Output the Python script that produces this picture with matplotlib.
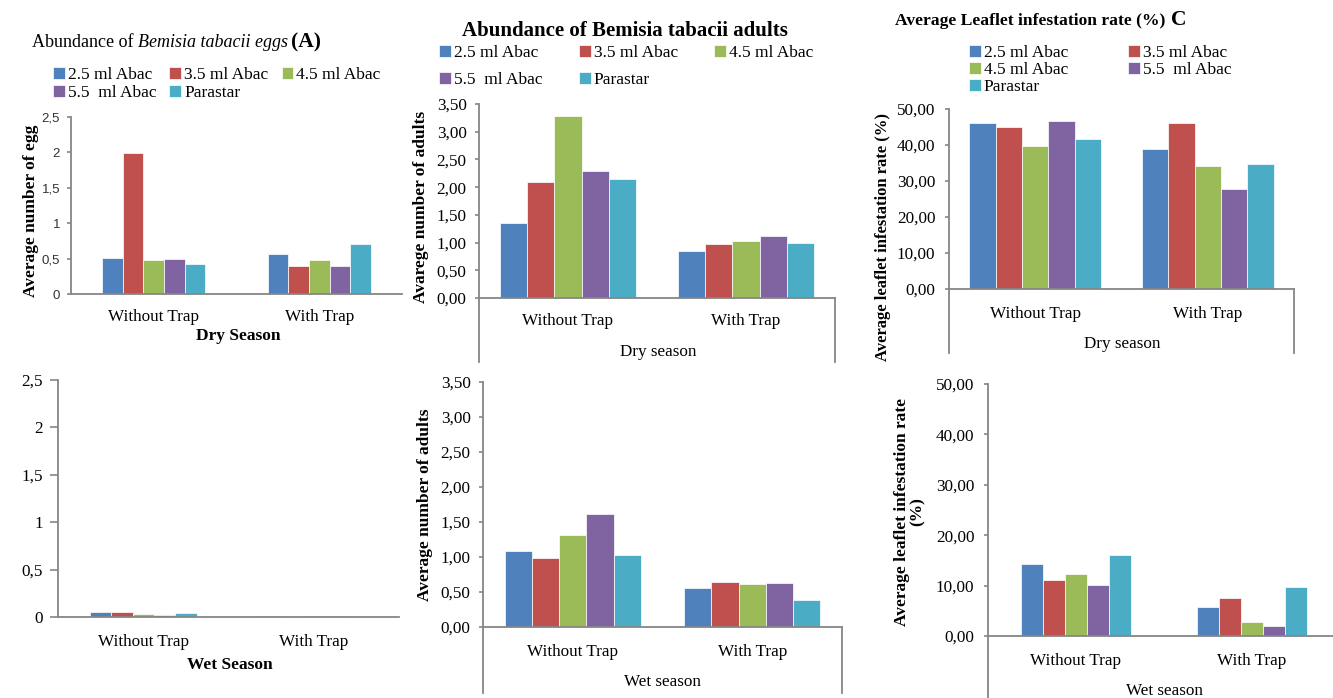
import matplotlib
matplotlib.use('Agg')
import matplotlib.pyplot as plt
import numpy as np

W, H = 1333, 698
plt.rcParams['font.family'] = 'Liberation Serif'
plt.rcParams['font.size'] = 12.3

# data
series = ['2.5 ml Abac', '3.5 ml Abac', '4.5 ml Abac', '5.5  ml Abac', 'Parastar']
colors = ['#4F81BD', '#C0504D', '#9BBB59', '#8064A2', '#4BACC6']
categories = ['Without Trap', 'With Trap']

eggs_dry_without = [0.51, 1.99, 0.48, 0.50, 0.42]
eggs_dry_with = [0.57, 0.40, 0.48, 0.39, 0.70]
eggs_wet_without = [0.05, 0.05, 0.035, 0.025, 0.042]
eggs_wet_with = [0.012, 0.0, 0.012, 0.012, 0.0]

adults_dry_without = [1.35, 2.10, 3.29, 2.30, 2.14]
adults_dry_with = [0.85, 0.97, 1.03, 1.11, 0.99]
adults_wet_without = [1.08, 0.98, 1.32, 1.62, 1.03]
adults_wet_with = [0.56, 0.65, 0.61, 0.63, 0.39]

leaf_dry_without = [46.0, 45.1, 39.8, 46.7, 41.7]
leaf_dry_with = [38.9, 46.0, 34.2, 27.9, 34.6]
leaf_wet_without = [14.3, 11.2, 12.3, 10.1, 16.1]
leaf_wet_with = [5.8, 7.6, 2.7, 2.0, 9.8]

egg_ticks = [0, 0.5, 1, 1.5, 2, 2.5]
egg_labels = ['0', '0,5', '1', '1,5', '2', '2,5']
adult_ticks = [0, 0.5, 1, 1.5, 2, 2.5, 3, 3.5]
adult_labels = ['0,00', '0,50', '1,00', '1,50', '2,00', '2,50', '3,00', '3,50']
leaf_ticks = [0, 10, 20, 30, 40, 50]
leaf_labels = ['0,00', '10,00', '20,00', '30,00', '40,00', '50,00']

GRAY = '#868686'

fig = plt.figure(figsize=(W / 100, H / 100), dpi=100)


def px_axes(l, t, r, b):
    return fig.add_axes([l / W, 1 - b / H, (r - l) / W, (b - t) / H])


def bar_panel(ax, without, with_, group, ticks, labels, tick_len=4, ypad=5, xpad=11,
              tickfont=None):
    n = len(series)
    w = group / n
    x = np.arange(len(categories))
    for i in range(n):
        ax.bar(x - group / 2 + w * (i + 0.5), [without[i], with_[i]], w,
               color=colors[i], edgecolor='white', linewidth=0.5, label=series[i])
    ax.set_xlim(-0.5, len(categories) - 0.5)
    ax.set_ylim(ticks[0], ticks[-1])
    ax.set_yticks(ticks)
    ax.set_yticklabels(labels)
    ax.set_xticks(x)
    ax.set_xticklabels(categories)
    for s in ['top', 'right']:
        ax.spines[s].set_visible(False)
    for s in ['left', 'bottom']:
        ax.spines[s].set_color(GRAY)
        ax.spines[s].set_linewidth(1.3)
    ax.tick_params(axis='y', direction='out', length=tick_len * 0.72, width=1.2,
                   color=GRAY, pad=ypad)
    ax.tick_params(axis='x', length=0, pad=xpad)
    if tickfont:
        for t in ax.get_yticklabels():
            t.set_fontfamily(tickfont['family'])
            t.set_fontsize(tickfont['size'])
            t.set_color(tickfont['color'])
    ax.set_facecolor('none')


def frame_lines(ax, depth_px, right=True):
    h = ax.get_position().height * H
    d = depth_px / h
    ax.plot([0, 0], [0, -d], transform=ax.transAxes, color=GRAY, lw=1.3, clip_on=False)
    if right:
        ax.plot([1, 1], [0, -d], transform=ax.transAxes, color=GRAY, lw=1.3, clip_on=False)


def legend(ax, x, y, order, ncol, colsp, labsp):
    hs, ls = ax.get_legend_handles_labels()
    fig.legend([hs[i] for i in order], [ls[i] for i in order], loc='upper left',
               bbox_to_anchor=(x / W, 1 - y / H), ncol=ncol, frameon=False,
               borderpad=0, borderaxespad=0, handlelength=0.68, handleheight=0.68,
               handletextpad=0.18, columnspacing=colsp, labelspacing=labsp,
               fontsize=12.5)


def ftext(x, y, s, **kw):
    return fig.text(x / W, 1 - y / H, s, **kw)


def seq_text(x, y, parts):
    r = fig.canvas.get_renderer()
    for s, gap, kw in parts:
        t = ftext(x, y, s, va='baseline', ha='left', **kw)
        x += t.get_window_extent(r).width + gap


# Panel A - eggs, dry season
axA1 = px_axes(71, 117, 402, 294)
bar_panel(axA1, eggs_dry_without, eggs_dry_with, 0.62, egg_ticks, egg_labels, ypad=5,
          xpad=11, tickfont={'family': 'Liberation Sans', 'size': 9.5, 'color': '#333333'})
seq_text(32, 47, [('Abundance of', 4, {'size': 13}),
                  ('Bemisia tabacii eggs', 4, {'style': 'italic', 'size': 13}),
                  ('(A)', 0, {'weight': 'bold', 'size': 15.5})])
legend(axA1, 53, 67, [0, 3, 1, 4, 2], 3, 0.75, 0.12)
ftext(31, 211, 'Average number of egg', rotation=90, ha='center', va='center',
      weight='bold', size=12.5)
ftext(238, 336, 'Dry Season', ha='center', va='center', weight='bold', size=12.5)

# Panel A - eggs, wet season
axA2 = px_axes(58, 380, 399, 617)
bar_panel(axA2, eggs_wet_without, eggs_wet_with, 0.63, egg_ticks, egg_labels,
          tick_len=8, ypad=5, xpad=12)
ftext(230, 665, 'Wet Season', ha='center', va='center', weight='bold', size=12.5)

# Panel B - adults, dry season
axB1 = px_axes(479, 104, 835, 298)
bar_panel(axB1, adults_dry_without, adults_dry_with, 0.765, adult_ticks, adult_labels,
          ypad=6, xpad=11)
frame_lines(axB1, 64)
ftext(625, 36, 'Abundance of Bemisia tabacii adults', ha='center', va='baseline',
      weight='bold', size=15)
legend(axB1, 439, 45, [0, 3, 1, 4, 2], 3, 2.1, 0.62)
ftext(421, 207, 'Avarege number of adults', rotation=90, ha='center', va='center',
      weight='bold', size=12.5)
ftext(658, 352, 'Dry season', ha='center', va='center')

# Panel B - adults, wet season
axB2 = px_axes(483, 382, 842, 627)
bar_panel(axB2, adults_wet_without, adults_wet_with, 0.76, adult_ticks, adult_labels,
          ypad=6, xpad=12)
frame_lines(axB2, 66)
ftext(425, 505, 'Average number of adults', rotation=90, ha='center', va='center',
      weight='bold', size=12.5)
ftext(663, 682, 'Wet season', ha='center', va='center')

# Panel C - leaflet infestation, dry season
axC1 = px_axes(949, 109, 1294, 289)
bar_panel(axC1, leaf_dry_without, leaf_dry_with, 0.765, leaf_ticks, leaf_labels,
          ypad=7, xpad=12)
frame_lines(axC1, 64)
seq_text(895, 25, [('Average Leaflet infestation rate (%)', 6, {'weight': 'bold', 'size': 12.6}),
                   ('C', 0, {'weight': 'bold', 'size': 15.5})])
legend(axC1, 969, 45, [0, 2, 4, 1, 3], 2, 3.45, 0.05)
ftext(883, 237, 'Average leaflet infestation rate (%)', rotation=90, ha='center',
      va='center', weight='bold', size=12)
ftext(1122, 344, 'Dry season', ha='center', va='center')

# Panel C - leaflet infestation, wet season
axC2 = px_axes(988, 384, 1340, 636)
bar_panel(axC2, leaf_wet_without, leaf_wet_with, 0.625, leaf_ticks, leaf_labels,
          ypad=7, xpad=12)
frame_lines(axC2, 70, right=False)
ftext(910, 512, 'Average leaflet infestation rate\n(%)', rotation=90, ha='center',
      va='center', weight='bold', size=12.5, multialignment='center', linespacing=1.0)
ftext(1165, 691, 'Wet season', ha='center', va='center')

fig.savefig('out.png', dpi=100)
